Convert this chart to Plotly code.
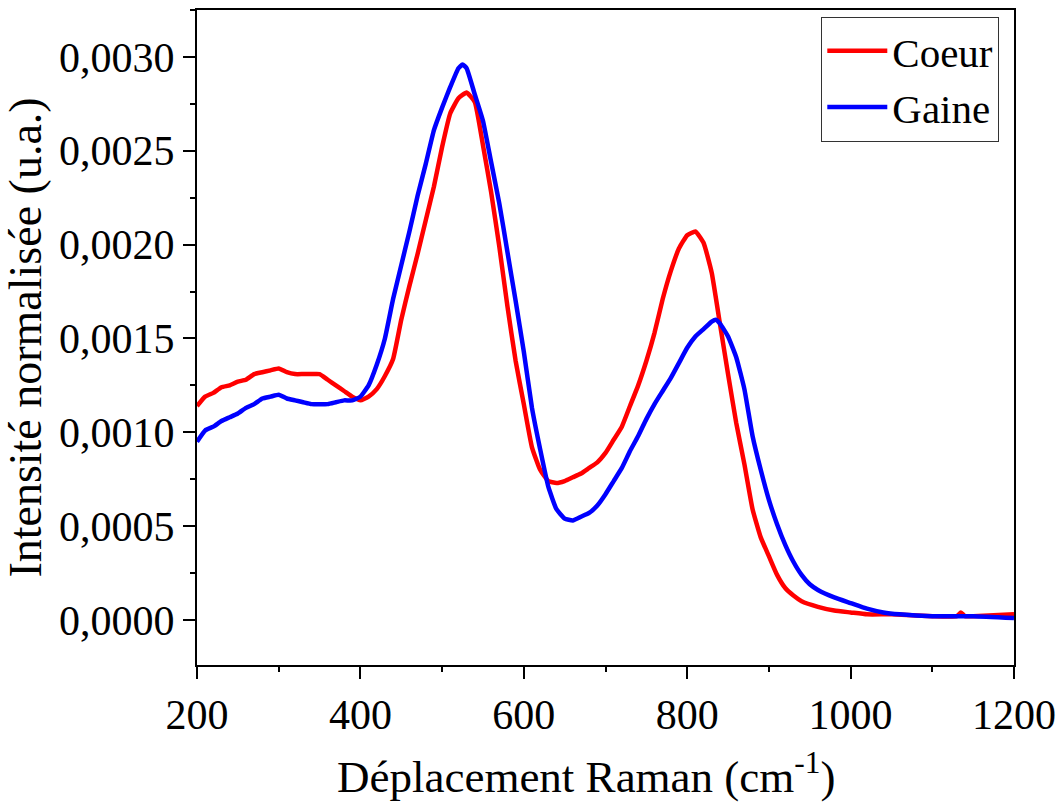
import plotly.graph_objects as go

# Raman shift (cm-1) and normalized intensities
coeur_x = [200, 210, 220, 230, 240, 250, 260, 270, 280, 290, 300, 310, 320, 330, 340, 350,
           360, 370, 380, 390, 400, 410, 420, 430, 440, 450, 460, 470, 480, 490, 500, 510,
           520, 530, 540, 550, 560, 570, 580, 590, 600, 610, 620, 630, 640, 650, 660, 670,
           680, 690, 700, 710, 720, 730, 740, 750, 760, 770, 780, 790, 800, 810, 820, 830,
           840, 850, 860, 870, 880, 890, 900, 910, 920, 930, 940, 960, 980, 1000, 1020, 1050,
           1100, 1130, 1135, 1140, 1150, 1200]
coeur_y = [0.00114, 0.00119, 0.00121, 0.00124, 0.00125, 0.00127, 0.00128, 0.00131, 0.00132, 0.00133,
           0.00134, 0.00132, 0.00131, 0.00131, 0.00131, 0.00131, 0.00128, 0.00125, 0.00122, 0.00119,
           0.00117, 0.00119, 0.00123, 0.00130, 0.00139, 0.00160, 0.00178, 0.00195, 0.00213, 0.00231,
           0.00252, 0.00270, 0.00278, 0.00281, 0.00276, 0.00253, 0.00228, 0.00199, 0.00167, 0.00138,
           0.00115, 0.00092, 0.00080, 0.00074, 0.00073, 0.00074, 0.00076, 0.00078, 0.00081, 0.00084,
           0.00089, 0.00096, 0.00103, 0.00114, 0.00125, 0.00138, 0.00153, 0.00171, 0.00186, 0.00198,
           0.00205, 0.00207, 0.00201, 0.00185, 0.00158, 0.00131, 0.00105, 0.00083, 0.00059, 0.00044,
           0.00034, 0.00024, 0.00017, 0.00013, 0.00010, 0.00007, 0.00005, 0.00004, 0.00003, 0.00003,
           0.00002, 0.00002, 0.00004, 0.00002, 0.00002, 0.00003]

gaine_x = [200, 210, 220, 230, 240, 250, 260, 270, 280, 290, 300, 310, 320, 330, 340, 350,
           360, 370, 380, 390, 400, 410, 420, 430, 440, 450, 460, 470, 480, 490, 500, 510,
           520, 525, 530, 540, 550, 560, 570, 580, 590, 600, 610, 620, 630, 640, 650, 660,
           670, 680, 690, 700, 710, 720, 730, 740, 750, 760, 770, 780, 790, 800, 810, 820,
           830, 835, 840, 850, 860, 870, 880, 890, 900, 910, 920, 930, 940, 950, 960, 980,
           1000, 1020, 1040, 1060, 1100, 1150, 1200]
gaine_y = [0.00095, 0.00101, 0.00103, 0.00106, 0.00108, 0.00110, 0.00113, 0.00115, 0.00118, 0.00119,
           0.00120, 0.00118, 0.00117, 0.00116, 0.00115, 0.00115, 0.00115, 0.00116, 0.00117, 0.00117,
           0.00119, 0.00125, 0.00136, 0.00150, 0.00171, 0.00189, 0.00207, 0.00226, 0.00243, 0.00261,
           0.00273, 0.00284, 0.00294, 0.00296, 0.00294, 0.00280, 0.00266, 0.00244, 0.00222, 0.00196,
           0.00170, 0.00143, 0.00113, 0.00091, 0.00071, 0.00059, 0.00054, 0.00053, 0.00055, 0.00057,
           0.00061, 0.00067, 0.00074, 0.00081, 0.00090, 0.00098, 0.00107, 0.00115, 0.00122, 0.00129,
           0.00137, 0.00145, 0.00151, 0.00155, 0.00159, 0.00160, 0.00158, 0.00151, 0.00140, 0.00123,
           0.00098, 0.00080, 0.00064, 0.00051, 0.00040, 0.00031, 0.00024, 0.00019, 0.00016, 0.00012,
           0.00009, 0.00006, 0.00004, 0.00003, 0.00002, 0.00002, 0.00001]

y_tickvals = [0.0, 0.0005, 0.0010, 0.0015, 0.0020, 0.0025, 0.0030]
y_ticktext = ["0,0000", "0,0005", "0,0010", "0,0015", "0,0020", "0,0025", "0,0030"]
y_minor_vals = [0.00025, 0.00075, 0.00125, 0.00175, 0.00225, 0.00275, 0.00325]
x_tickvals = [200, 400, 600, 800, 1000, 1200]
x_title = "Déplacement Raman (cm<sup>-1</sup>)"
y_title = "Intensité normalisée (u.a.)"

FONT = "Liberation Serif, Times New Roman, Times, DejaVu Serif, serif"

fig = go.Figure()
fig.add_trace(go.Scatter(x=coeur_x, y=coeur_y, mode="lines", name="Coeur",
                         line=dict(color="#ff0000", width=4.5, shape="spline", smoothing=0.4)))
fig.add_trace(go.Scatter(x=gaine_x, y=gaine_y, mode="lines", name="Gaine",
                         line=dict(color="#0000ff", width=4.5, shape="spline", smoothing=0.4)))

axis_common = dict(showline=True, linecolor="black", linewidth=2, mirror=True,
                   ticks="outside", tickcolor="black", tickwidth=2, ticklen=12,
                   showgrid=False, zeroline=False, automargin=False,
                   tickfont=dict(family=FONT, size=42, color="black"))

fig.update_xaxes(range=[200, 1200], tickvals=x_tickvals,
                 minor=dict(ticks="outside", ticklen=5, tickwidth=2, tickcolor="black", dtick=100,
                            tick0=200, showgrid=False),
                 **axis_common)
fig.update_yaxes(range=[-0.00024, 0.00325], tickvals=y_tickvals, ticktext=y_ticktext,
                 minor=dict(ticks="outside", ticklen=5, tickwidth=2, tickcolor="black",
                            tickvals=y_minor_vals, showgrid=False),
                 title=dict(text=y_title,
                            font=dict(family=FONT, size=46, color="black"), standoff=4),
                 **axis_common)

# x-axis title (slightly left of the plot centre, as in the reference)
fig.add_annotation(text=x_title, xref="paper", yref="paper", x=0.477, y=-0.165,
                   xanchor="center", yanchor="middle", showarrow=False,
                   font=dict(family=FONT, size=45, color="black"))

fig.update_layout(
    width=1058, height=805,
    margin=dict(l=197, r=44, t=10, b=140),
    paper_bgcolor="white", plot_bgcolor="white",
    font=dict(family=FONT, color="black"),
    legend=dict(x=0.982, y=0.99, xanchor="right", yanchor="top",
                bgcolor="white", bordercolor="#333333", borderwidth=1,
                font=dict(family=FONT, size=41, color="black"),
                itemwidth=60, tracegroupgap=0),
)

fig.write_html("out.html", config={"displayModeBar": False},
               post_script="document.body.style.margin='0';document.body.style.overflow='hidden';")
